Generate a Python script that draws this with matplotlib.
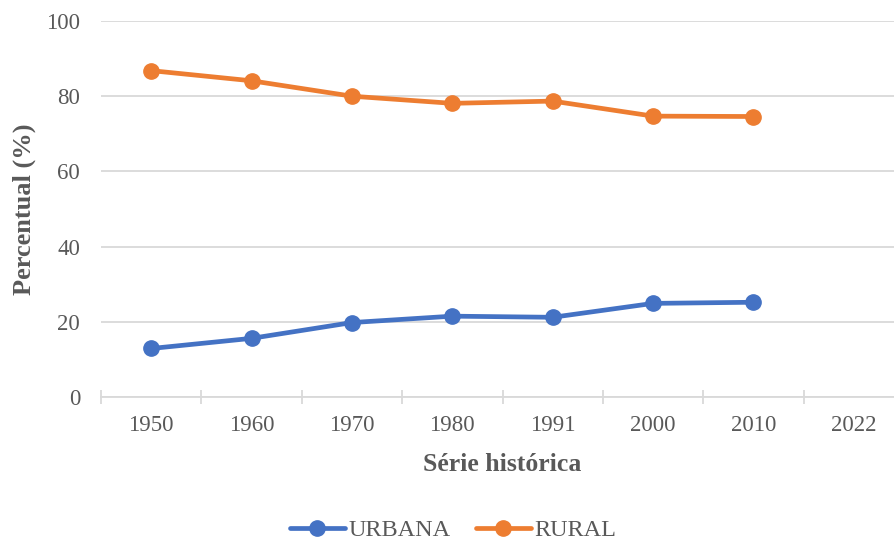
import matplotlib
matplotlib.use("Agg")
import matplotlib.pyplot as plt
import numpy as np

categories = ["1950", "1960", "1970", "1980", "1991", "2000", "2010", "2022"]
urbana = [12.9, 15.6, 19.8, 21.5, 21.2, 24.9, 25.2]
rural = [86.8, 84.1, 80.0, 78.1, 78.7, 74.7, 74.6]
yticks = [0, 20, 40, 60, 80, 100]

plt.rcParams['font.family'] = ['Liberation Serif', 'DejaVu Serif']

W, H = 894, 542
fig = plt.figure(figsize=(W / 100, H / 100), dpi=100)
left, right, top, bottom = 101, 904, 21, 397
ax = fig.add_axes([left / W, 1 - bottom / H, (right - left) / W, (bottom - top) / H])

x = np.arange(len(categories))
ax.plot(x[:len(urbana)], urbana, color='#4472C4', lw=3.4, marker='o', ms=11, label='URBANA',
        solid_capstyle='round', zorder=3)
ax.plot(x[:len(rural)], rural, color='#ED7D31', lw=3.4, marker='o', ms=11, label='RURAL',
        solid_capstyle='round', zorder=3)

ax.set_xlim(-0.5, len(categories) - 0.5)
ax.set_ylim(0, 100)
ax.set_yticks(yticks)
ax.set_yticklabels([str(v) for v in yticks])
ax.grid(axis='y', color='#D9D9D9', lw=1.3)
ax.set_axisbelow(True)
for s in ['top', 'right', 'left']:
    ax.spines[s].set_visible(False)
ax.spines['bottom'].set_color('#D9D9D9')
ax.spines['bottom'].set_linewidth(1.3)

ax.set_xticks(x)
ax.set_xticklabels(categories)
ax.set_xticks(np.arange(-0.5, len(categories), 1.0), minor=True)
ax.tick_params(axis='x', which='major', length=0, pad=13, labelsize=16.5, labelcolor='#595959')
ax.tick_params(axis='x', which='minor', direction='inout', length=10, width=1.3, color='#D9D9D9')
ax.tick_params(axis='y', length=0, pad=15, labelsize=16.5, labelcolor='#595959')

ax.set_xlabel('Série histórica', fontsize=18.5, fontweight='bold', color='#595959', labelpad=12)
ax.set_ylabel('Percentual (%)', fontsize=19, fontweight='bold', color='#595959', labelpad=7)

leg = fig.legend(loc='center', bbox_to_anchor=(453 / W, 1 - 530 / H), ncol=2, frameon=False,
                 fontsize=17.5, handlelength=2.25, columnspacing=1.05, handletextpad=0.15)
for t in leg.get_texts():
    t.set_color('#595959')

fig.savefig('out.png', dpi=100)
